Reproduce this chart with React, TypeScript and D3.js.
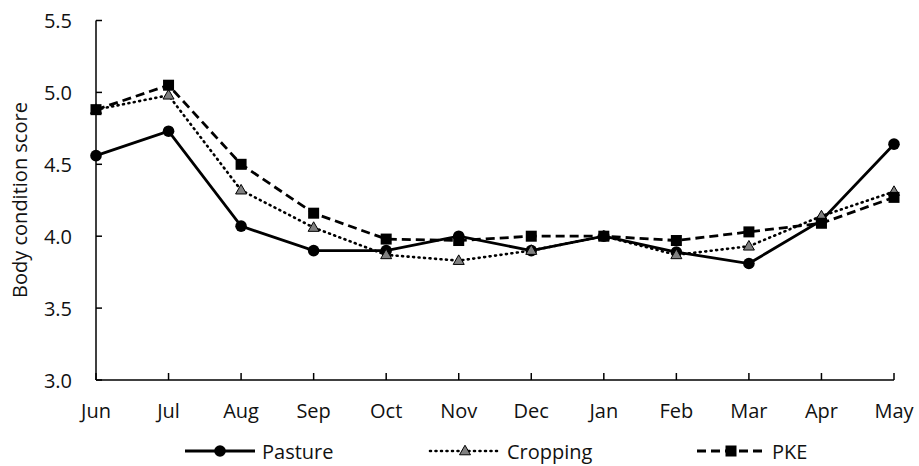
import * as d3 from "d3";

const months = ["Jun", "Jul", "Aug", "Sep", "Oct", "Nov", "Dec", "Jan", "Feb", "Mar", "Apr", "May"];
const pasture = [4.56, 4.73, 4.07, 3.9, 3.9, 4.0, 3.9, 4.0, 3.89, 3.81, 4.11, 4.64];
const cropping = [4.88, 4.98, 4.32, 4.06, 3.87, 3.83, 3.9, 4.0, 3.87, 3.93, 4.14, 4.31];
const pke = [4.88, 5.05, 4.5, 4.16, 3.98, 3.97, 4.0, 4.0, 3.97, 4.03, 4.09, 4.27];
const yTicks = [3.0, 3.5, 4.0, 4.5, 5.0, 5.5];

const font = "'Open Sans', Lato, sans-serif";
const fs = 20;

type Series = { name: string; values: number[]; dash: string; width: number; marker: string };

const series: Series[] = [
  { name: "Pasture", values: pasture, dash: "none", width: 2.8, marker: "circle" },
  { name: "Cropping", values: cropping, dash: "1 4.5", width: 2.6, marker: "triangle" },
  { name: "PKE", values: pke, dash: "9 5", width: 2.8, marker: "square" },
];

function Marker({ kind, x, y }: { kind: string; x: number; y: number }) {
  if (kind === "circle") return <circle cx={x} cy={y} r={5.8} fill="#000" />;
  if (kind === "square") return <rect x={x - 5.5} y={y - 5.5} width={11} height={11} fill="#000" />;
  const s = 11;
  const h = s * 0.87;
  return (
    <path
      d={`M${x},${y - h / 2 - 1} L${x + s / 2},${y + h / 2 - 1} L${x - s / 2},${y + h / 2 - 1} Z`}
      fill="#808080"
      stroke="#000"
      strokeWidth={1}
    />
  );
}

export default function App() {
  const W = 919;
  const H = 466;
  const x = d3.scalePoint<string>().domain(months).range([96, 894]);
  const y = d3.scaleLinear().domain([3, 5.5]).range([380, 20.5]);

  const line = (vals: number[]) =>
    d3
      .line<number>()
      .x((_, i) => x(months[i]) as number)
      .y((d) => y(d))(vals) as string;

  const legend = [
    { s: series[0], x0: 185, x1: 255, tx: 262 },
    { s: series[1], x0: 430, x1: 500, tx: 507 },
    { s: series[2], x0: 697, x1: 765, tx: 772 },
  ];
  const ly = 451;

  return (
    <svg width={W} height={H} style={{ position: "absolute", left: 0, top: 0, background: "#fff" }}>
      {/* axes */}
      <line x1={96} x2={96} y1={y(5.5)} y2={380} stroke="#000" strokeWidth={1.5} />
      <line x1={96} x2={894} y1={380} y2={380} stroke="#000" strokeWidth={1.5} />
      {yTicks.map((t) => (
        <g key={t}>
          <line x1={96} x2={102} y1={y(t)} y2={y(t)} stroke="#000" strokeWidth={1.5} />
          <text
            x={72}
            y={y(t)}
            textAnchor="end"
            dominantBaseline="central"
            fontFamily={font}
            fontSize={fs}
            fill="#111"
          >
            {t.toFixed(1)}
          </text>
        </g>
      ))}
      {months.map((m) => (
        <g key={m}>
          <line x1={x(m)} x2={x(m)} y1={380} y2={373} stroke="#000" strokeWidth={1.5} />
          <text
            x={x(m)}
            y={410}
            textAnchor="middle"
            dominantBaseline="central"
            fontFamily={font}
            fontSize={fs}
            fill="#111"
          >
            {m}
          </text>
        </g>
      ))}
      <text
        transform="translate(19,200) rotate(-90)"
        textAnchor="middle"
        dominantBaseline="central"
        fontFamily={font}
        fontSize={fs}
        fill="#111"
      >
        Body condition score
      </text>

      {/* series */}
      {series.map((s) => (
        <g key={s.name}>
          <path
            d={line(s.values)}
            fill="none"
            stroke="#000"
            strokeWidth={s.width}
            strokeDasharray={s.dash}
            strokeLinecap={s.marker === "triangle" ? "round" : "butt"}
          />
          {s.values.map((v, i) => (
            <Marker key={i} kind={s.marker} x={x(months[i]) as number} y={y(v)} />
          ))}
        </g>
      ))}

      {/* legend */}
      {legend.map(({ s, x0, x1, tx }) => (
        <g key={s.name}>
          <line
            x1={x0}
            x2={x1}
            y1={ly}
            y2={ly}
            stroke="#000"
            strokeWidth={s.width}
            strokeDasharray={s.dash}
            strokeLinecap={s.marker === "triangle" ? "round" : "butt"}
          />
          <Marker kind={s.marker} x={(x0 + x1) / 2} y={ly} />
          <text x={tx} y={ly} dominantBaseline="central" fontFamily={font} fontSize={fs} fill="#111">
            {s.name}
          </text>
        </g>
      ))}
    </svg>
  );
}
